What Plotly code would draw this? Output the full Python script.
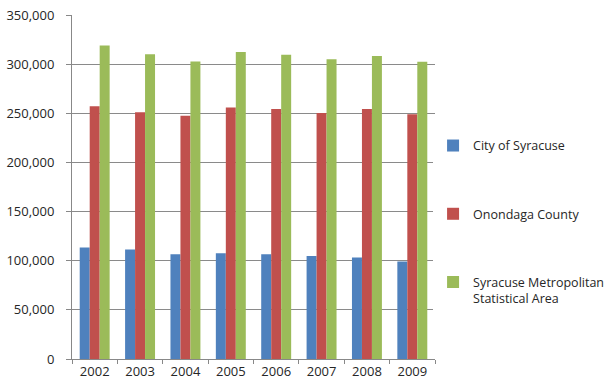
import plotly.graph_objects as go

years = ["2002", "2003", "2004", "2005", "2006", "2007", "2008", "2009"]
city = [113500, 111500, 106700, 107700, 106700, 104700, 103300, 99300]
county = [257100, 251000, 247600, 255800, 254400, 250300, 254400, 249000]
msa = [319000, 310000, 302800, 312300, 309600, 304900, 308200, 302500]

series_names = ["City of Syracuse", "Onondaga County",
                "Syracuse Metropolitan<br>Statistical Area"]
series_colors = ["#4F81BD", "#C0504D", "#9BBB59"]

fig = go.Figure()
for i, (name, vals, col) in enumerate(zip(series_names, [city, county, msa], series_colors)):
    fig.add_trace(go.Bar(x=years, y=vals, name=name, marker_color=col,
                         marker_line_width=0, legendgroup=str(i)))

font_family = "Open Sans, Noto Sans, sans-serif"
text_color = "#262626"
fig.update_layout(
    width=604, height=385,
    margin=dict(l=72, r=169, t=15, b=26, autoexpand=False),
    paper_bgcolor="white", plot_bgcolor="white",
    barmode="group", bargap=0.34, bargroupgap=0,
    font=dict(family=font_family, size=13, color=text_color),
    showlegend=True,
    legend=dict(xref="container", yref="container",
                x=0.717, y=0.66, xanchor="left", yanchor="top",
                tracegroupgap=49, valign="top",
                font=dict(size=12.5, color=text_color),
                itemwidth=30),
)
fig.update_xaxes(showline=True, linecolor="#888888", linewidth=1,
                 ticks="outside", ticklen=4, tickcolor="#888888",
                 tickson="boundaries", showgrid=False,
                 tickfont=dict(size=13, color=text_color))
fig.update_yaxes(range=[0, 350000], dtick=50000, tickformat=",d",
                 showline=True, linecolor="#888888", linewidth=1,
                 showgrid=True, gridcolor="#8a8a8a", gridwidth=1,
                 ticks="outside", ticklen=5, tickcolor="#888888",
                 ticklabelstandoff=9,
                 tickfont=dict(size=13, color=text_color))

fig.write_html("out.html")
